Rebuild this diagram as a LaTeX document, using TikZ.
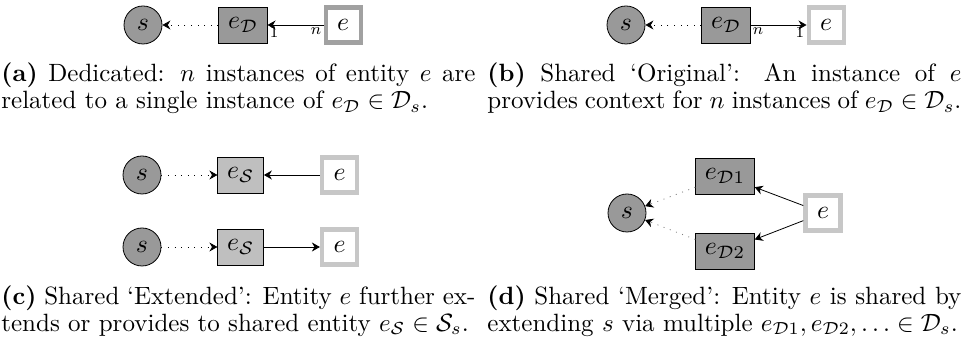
\documentclass[tikz,border=0pt]{standalone}
\usepackage{amsmath,amssymb}
\usetikzlibrary{arrows.meta,positioning}

\newcommand{\mlbl}[1]{\scalebox{1.29}{$#1$}}
\newcommand{\subcap}[1]{\scalebox{1.25}{\begin{minipage}[t]{189.6pt}\fontsize{10}{9.4}\selectfont #1\end{minipage}}}

\begin{document}
\begin{tikzpicture}[
  x=0.5pt, y=-0.5pt,
  node distance=7mm and 28pt,
  svc/.style={circle, draw, fill=black!40, minimum size=19pt, inner sep=0pt},
  ded/.style={draw, fill=black!40, minimum height=18pt, inner xsep=4.6pt, inner ysep=0pt},
  shr/.style={draw, fill=black!25, minimum height=18pt, inner xsep=4.6pt, inner ysep=0pt},
  ent/.style={draw=black!22, line width=2.2pt, fill=white, minimum size=17.5pt, inner sep=0pt},
  arr/.style={-{Stealth[length=4pt, width=4.5pt]}},
  dotarr/.style={-{Stealth[length=4pt, width=4.5pt, black]}, dash pattern=on 0.5pt off 2.8pt},
  card/.style={font=\footnotesize, inner sep=1pt},
  capt/.style={anchor=base west, inner sep=0pt}]
  \useasboundingbox (0,0) rectangle (961,346);
  % (a) dedicated
  \node[svc] (sa) at (143,25) {\mlbl{s}};
  \node[ded, right=of sa] (da) {\mlbl{e_{\mathcal{D}}}};
  \node[ent, draw=black!37, right=of da] (ea) {\mlbl{e}};
  \draw[dotarr] (da) -- (sa);
  \draw[arr] (ea) -- (da) node[card, pos=0, below left] {$n$} node[card, pos=1, below right] {$1$};
  % (b) shared original
  \node[svc] (sb) at (626,25) {\mlbl{s}};
  \node[ded, right=of sb] (db) {\mlbl{e_{\mathcal{D}}}};
  \node[ent, right=of db] (eb) {\mlbl{e}};
  \draw[dotarr] (db) -- (sb);
  \draw[arr] (db) -- (eb) node[card, pos=0, below right] {$n$} node[card, pos=1, below left] {$1$};
  % (c) shared extended
  \node[svc] (sc1) at (142,175) {\mlbl{s}};
  \node[shr, right=of sc1] (xc1) {\mlbl{e_{\mathcal{S}}}};
  \node[ent, right=of xc1] (ec1) {\mlbl{e}};
  \draw[dotarr] (sc1) -- (xc1);
  \draw[arr] (ec1) -- (xc1);
  \node[svc] (sc2) at (142,247) {\mlbl{s}};
  \node[shr, right=of sc2] (xc2) {\mlbl{e_{\mathcal{S}}}};
  \node[ent, right=of xc2] (ec2) {\mlbl{e}};
  \draw[dotarr] (sc2) -- (xc2);
  \draw[arr] (xc2) -- (ec2);
  % (d) shared merged
  \node[svc] (sd) at (627,213) {\mlbl{s}};
  \node[ded] (d1) at (725,176) {\mlbl{e_{\mathcal{D}1}}};
  \node[ded] (d2) at (725,251) {\mlbl{e_{\mathcal{D}2}}};
  \node[ent] (ed) at (823,213) {\mlbl{e}};
  \draw[dotarr, draw=black!50] (d1) -- (sd);
  \draw[dotarr, draw=black!50] (d2) -- (sd);
  \draw[arr] (ed) -- (d1);
  \draw[arr] (ed) -- (d2);
  % captions
  \node[capt] (capa) at (1,82) {\subcap{\textbf{(a)} Dedicated: $n$ instances of entity $e$ are\linebreak related to a single instance of $e_{\mathcal{D}} \in \mathcal{D}_s$.}};
  \node[capt] (capb) at (487,82) {\subcap{\textbf{(b)} Shared `Original': An instance of $e$\linebreak provides context for $n$ instances of $e_{\mathcal{D}} \in \mathcal{D}_s$.}};
  \node[capt] (capc) at (1,305) {\subcap{\textbf{(c)} Shared `Extended': Entity $e$ further ex-\linebreak tends or provides to shared entity $e_{\mathcal{S}} \in \mathcal{S}_s$.}};
  \node[capt] (capd) at (487,305) {\subcap{\textbf{(d)} Shared `Merged': Entity $e$ is shared by\linebreak extending $s$ via multiple $e_{\mathcal{D}1}, e_{\mathcal{D}2}, \ldots \in \mathcal{D}_s$.}};
\end{tikzpicture}
\end{document}
